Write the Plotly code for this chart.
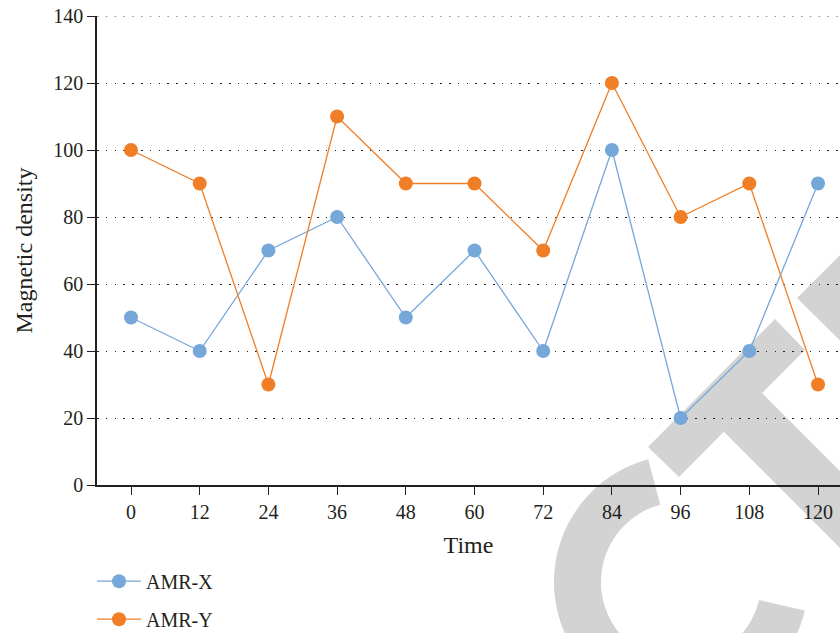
import numpy as np
import plotly.graph_objects as go

# Sampling times and the two magnetometer channels
time = [0, 12, 24, 36, 48, 60, 72, 84, 96, 108, 120]
amr_x = [50, 40, 70, 80, 50, 70, 40, 100, 20, 40, 90]
amr_y = [100, 90, 30, 110, 90, 90, 70, 120, 80, 90, 30]
y_ticks = [0, 20, 40, 60, 80, 100, 120, 140]

BLUE = "#76A7D9"
ORANGE = "#F07E26"
INK = "#231F20"
FONT = "Liberation Serif"
GRID_DASH = "1.5px,7.3px"

W, H = 840, 633
L, R, T, B = 97, 840, 16, 485  # plot area edges in pixels


def to_paper(pts):
    """Convert pixel points (y down) into paper coordinates for shapes."""
    return [((px - L) / (R - L), (B - py) / (B - T)) for px, py in pts]


def path_from(pts):
    p = to_paper(pts)
    return "M " + " L ".join(f"{x:.5f},{y:.5f}" for x, y in p) + " Z"


# Grey background logo: a ring segment plus diagonal bars
cx, cy, r_out, r_in = 681, 582, 127, 80
a0, a1 = np.deg2rad(105), np.deg2rad(347)
ang = np.linspace(a0, a1, 120)
outer = [(cx + r_out * np.cos(a), cy - r_out * np.sin(a)) for a in ang]
inner = [(cx + r_in * np.cos(a), cy - r_in * np.sin(a)) for a in ang[::-1]]
ring = outer + inner

bar_a = [(648, 447), (775, 319), (805, 350), (679, 477)]
bar_b = [(744.5, 375.5), (1084.5, 715.5), (1046, 754), (706, 414)]
bar_c = [(797, 298), (900, 195), (900, 400)]

shapes = [
    dict(type="path", xref="paper", yref="paper", path=path_from(poly),
         fillcolor="#D3D3D3", line=dict(width=0), layer="below")
    for poly in (ring, bar_a, bar_b, bar_c)
]
# top grid line sits on the plot edge, so draw it explicitly
shapes.append(dict(type="line", xref="paper", yref="y", x0=0, x1=1,
                   y0=y_ticks[-1], y1=y_ticks[-1],
                   line=dict(color=INK, width=1.2, dash=GRID_DASH),
                   layer="below"))

fig = go.Figure()
for name, vals, col in (("AMR-X", amr_x, BLUE), ("AMR-Y", amr_y, ORANGE)):
    fig.add_trace(go.Scatter(
        x=time, y=vals, name=name, mode="lines+markers",
        line=dict(color=col, width=1.3),
        marker=dict(color=col, size=14),
        cliponaxis=False, legendgroup=name,
    ))

fig.update_layout(
    width=W, height=H,
    margin=dict(l=L, r=W - R, t=T, b=H - B, autoexpand=False),
    paper_bgcolor="white", plot_bgcolor="rgba(0,0,0,0)",
    font=dict(family=FONT, size=20, color=INK),
    shapes=shapes,
    showlegend=True,
    legend=dict(
        x=-5 / (R - L), y=-0.1635, xanchor="left", yanchor="top",
        orientation="v", bgcolor="rgba(0,0,0,0)",
        font=dict(family=FONT, size=20, color=INK),
        tracegroupgap=9, itemwidth=44,
    ),
)

fig.update_xaxes(
    range=[-5.94, 123.84], tickvals=time, ticktext=[str(t) for t in time],
    showline=True, linecolor=INK, linewidth=1.5,
    ticks="outside", ticklen=8, tickwidth=1.3, tickcolor=INK,
    showgrid=False, zeroline=False, automargin=False,
    title=dict(text="Time", standoff=14),
)
fig.update_yaxes(
    range=[0, 140], tickvals=y_ticks,
    showline=True, linecolor=INK, linewidth=1.5,
    ticks="outside", ticklen=8, tickwidth=1.3, tickcolor=INK,
    showgrid=True, gridcolor=INK, gridwidth=1.2, griddash=GRID_DASH,
    zeroline=False, automargin=False,
    title=dict(text="Magnetic density", standoff=14),
)

fig.write_html("out.html")
